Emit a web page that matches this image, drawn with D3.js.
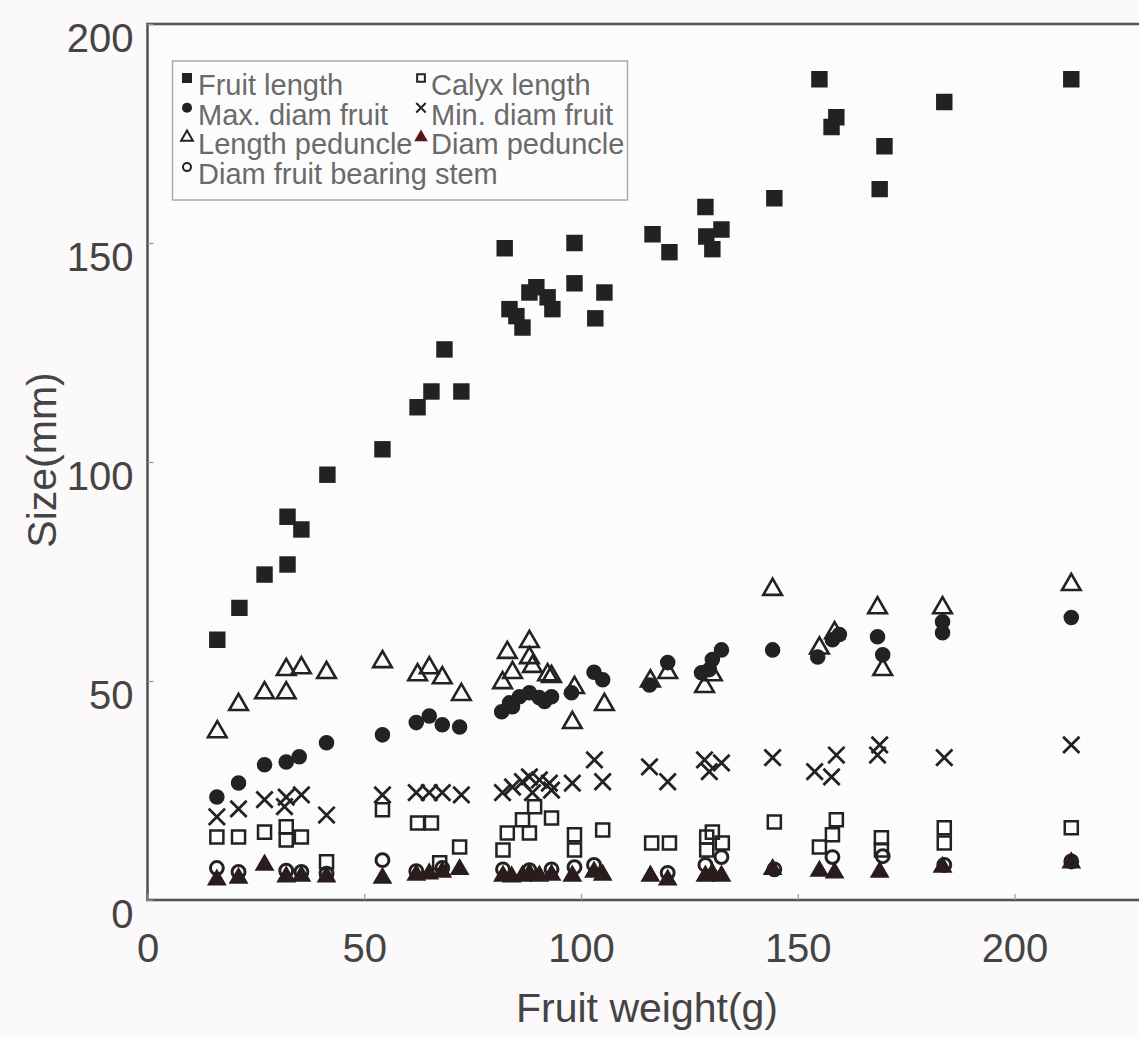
<!DOCTYPE html>
<html>
<head>
<meta charset="utf-8">
<script src="https://cdn.jsdelivr.net/npm/d3@7/dist/d3.min.js"></script>
<style>
  html, body { margin: 0; padding: 0; background: #fbf9fa; }
  svg { display: block; }
  text { font-family: "Liberation Sans", Arial, sans-serif; }
</style>
</head>
<body>
<svg id="chart" width="1139" height="1037"></svg>
<script>
// ---------- data (weight g, size mm) ----------
const xTicks = [0, 50, 100, 150, 200];
const yTicks = [0, 50, 100, 150, 200];
const xTitle = "Fruit weight(g)";
const yTitle = "Size(mm)";

const fruitLength = [[16.1,59.4],[21.2,66.7],[27.0,74.3],[32.3,76.6],[32.3,87.5],[35.5,84.6],[41.5,97.1],[54.2,102.9],[62.3,112.5],[65.5,116.1],[68.5,125.7],[72.4,116.1],[82.4,148.8],[83.5,134.9],[85.1,133.3],[86.5,130.7],[88.1,138.7],[89.7,139.9],[92.3,137.6],[93.4,134.9],[98.5,150],[98.5,140.8],[103.3,132.8],[105.4,138.7],[116.5,152],[120.4,147.9],[128.7,158.2],[128.9,151.5],[130.3,148.6],[132.4,153.1],[144.6,160.2],[155.0,187.4],[157.8,176.5],[158.9,178.7],[168.9,162.3],[170.0,172.1],[183.8,182.2],[213.1,187.4]];

const calyxLength = [[16,14.4],[21,14.4],[27,15.5],[32,16.7],[32,13.7],[35.5,14.4],[41.3,8.7],[54.2,20.6],[62.3,17.6],[65.5,17.6],[67.4,8.5],[72,12.1],[82,11.4],[83,15.3],[86.5,18.3],[88.1,15.3],[89.3,21.3],[93.2,18.7],[98.5,14.9],[98.5,11.4],[105,16],[116.3,13],[120.4,13],[129,14.4],[130.3,15.5],[132.6,13],[129,11.4],[144.6,17.8],[155,12.1],[158,14.9],[158.9,18.3],[169.3,14.2],[169.3,11.4],[183.8,16.5],[183.8,13],[213.1,16.5]];

const maxDiamFruit = [[16,23.5],[21,26.7],[27,30.9],[32,31.5],[35,32.7],[41.3,35.9],[54.2,37.7],[62,40.5],[65,42],[68,40],[72,39.5],[81.7,43],[84.2,44.1],[83.5,45],[85.8,46.4],[88.1,47.3],[90.4,46.2],[91.6,45.3],[93.2,46.4],[97.8,47.3],[103,52],[105,50.3],[115.8,49.1],[120,54.2],[127.8,51.9],[129.6,52.6],[130.3,54.9],[132.4,57.1],[144.2,57.1],[154.6,55.5],[158,59.4],[159.6,60.6],[168.4,60.1],[169.6,56],[183.4,63.5],[183.4,61],[213.1,64.5]];

const minDiamFruit = [[16,19],[21,20.8],[27,22.9],[31.6,21.3],[32,23.5],[35.5,24],[41.3,19.4],[54.2,24],[62,24.5],[65,24.5],[68,24.5],[72.4,24],[81.9,24.5],[84.2,25.8],[86.5,27],[88.1,28.1],[88.8,24.5],[90.4,27.4],[92.7,26.7],[93.2,25.1],[98,26.7],[103.1,32],[105,27],[115.8,30.4],[120,27],[128.5,32],[129.6,29.3],[132.4,31.3],[144.2,32.5],[153.9,29.3],[157.8,28.1],[158.9,33.1],[168.4,33.1],[168.9,35.4],[183.8,32.5],[213.1,35.4]];

const lengthPeduncle = [[16.1,38.4],[21,44.6],[27,47.3],[32,47.3],[32,52.6],[35.5,53],[41.3,51.9],[54.2,54.4],[62.3,51.4],[65,53],[68,50.7],[72.4,46.9],[81.9,49.6],[83,56.5],[84.2,51.9],[88.1,59],[88.1,55.3],[88.8,53.3],[92.3,51.4],[93.2,51],[98,40.5],[98.5,48.5],[105.4,44.6],[116,50],[120,51.9],[128.5,48.7],[130.3,51.4],[144.2,70.9],[155,57.5],[158.5,61],[168.4,66.7],[169.6,52.6],[183.4,66.7],[213.1,72]];

const diamPeduncle = [[16,4.6],[21,5],[27,8],[32,5.3],[35.5,5.5],[41.3,5.3],[54.2,5],[62,5.7],[65,6],[68,6.4],[72,7],[82,5.5],[84,5.3],[86.5,5.5],[88.1,6],[90.4,5.5],[93.2,5.7],[98,5.5],[103,6.4],[105,5.7],[116,5.5],[120,4.6],[128.7,5.5],[130.3,6],[132.4,5.5],[144.2,7],[155,6.6],[158.5,6.2],[168.9,6.4],[183.4,7.5],[213.1,8.5]];

const diamFruitBearingStem = [[16,7.3],[21,6.4],[32,6.7],[35.5,6.4],[41.3,6],[54.2,9.1],[62,6.6],[68,7.3],[82,7],[88.1,6.8],[93.2,7],[98.5,7.5],[103,8],[120,6.2],[128.7,8],[132.4,9.8],[144.6,7],[158,9.8],[169.6,10],[183.8,8],[213.1,8.8]];

const seriesNames = ["Fruit length","Calyx length","Max. diam fruit","Min. diam fruit","Length peduncle","Diam peduncle","Diam fruit bearing stem"];

// ---------- styling ----------
const ink = "#222";
const styles = {
  "Fruit length":            {type: d3.symbolSquare,   size: 270, fill: ink, stroke: "none", sw: 0, lsize: 100},
  "Calyx length":            {type: d3.symbolSquare,   size: 170, fill: "none", stroke: ink, sw: 2.5, lsize: 60},
  "Max. diam fruit":         {type: d3.symbolCircle,   size: 190, fill: ink, stroke: "none", sw: 0, lsize: 80},
  "Min. diam fruit":         {type: d3.symbolTimes,    size: 175, fill: "none", stroke: ink, sw: 2.8, lsize: 60},
  "Length peduncle":         {type: d3.symbolTriangle, size: 150, fill: "none", stroke: ink, sw: 2.6, lsize: 60},
  "Diam peduncle":           {type: d3.symbolTriangle, size: 170, fill: "#2a1c1c", stroke: "none", sw: 0, lsize: 80, lfill: "#5a1414"},
  "Diam fruit bearing stem": {type: d3.symbolCircle,   size: 130, fill: "none", stroke: ink, sw: 3, lsize: 50}
};
const dataBySeries = {
  "Fruit length": fruitLength,
  "Calyx length": calyxLength,
  "Max. diam fruit": maxDiamFruit,
  "Min. diam fruit": minDiamFruit,
  "Length peduncle": lengthPeduncle,
  "Diam peduncle": diamPeduncle,
  "Diam fruit bearing stem": diamFruitBearingStem
};

const svg = d3.select("#chart");
const W = 1139, H = 1037;
svg.append("rect").attr("width", W).attr("height", H).attr("fill", "#fbf9fa");

const plotLeft = 147.5, plotTop = 24, plotBottom = 900;
const x = d3.scaleLinear().domain([0, 250]).range([plotLeft, plotLeft + 250 * 4.335]);
const y = d3.scaleLinear().domain([0, 200]).range([plotBottom, plotTop]);

// frame
svg.append("rect")
  .attr("x", plotLeft).attr("y", plotTop)
  .attr("width", x(250) - plotLeft).attr("height", plotBottom - plotTop)
  .attr("fill", "#fdfcfd").attr("stroke", "#555").attr("stroke-width", 2.6);

// axes with inward ticks
const xAxis = d3.axisBottom(x).tickValues(xTicks).tickSizeInner(-6).tickSizeOuter(0).tickPadding(34);
const gx = svg.append("g").attr("transform", `translate(0,${plotBottom})`).call(xAxis);
gx.select(".domain").remove();
gx.selectAll(".tick line").attr("stroke", "#999").attr("stroke-width", 1.2);
gx.selectAll(".tick text").attr("font-size", 40).attr("fill", "#444")
  .attr("font-family", "Liberation Sans, Arial, sans-serif");

const yAxis = d3.axisLeft(y).tickValues(yTicks).tickSizeInner(-6).tickSizeOuter(0).tickPadding(14);
const gy = svg.append("g").attr("transform", `translate(${plotLeft},0)`).call(yAxis);
gy.select(".domain").remove();
gy.selectAll(".tick line").attr("stroke", "#999").attr("stroke-width", 1.2);
gy.selectAll(".tick text").attr("font-size", 40).attr("fill", "#444").attr("dy", "0.68em")
  .attr("font-family", "Liberation Sans, Arial, sans-serif");

// titles
svg.append("text").attr("x", 647).attr("y", 1022).attr("text-anchor", "middle")
  .attr("font-size", 41).attr("fill", "#444").text(xTitle);
svg.append("text").attr("transform", "translate(56,460) rotate(-90)").attr("text-anchor", "middle")
  .attr("font-size", 41).attr("fill", "#444").text(yTitle);

// points
const clipId = "plotclip";
svg.append("clipPath").attr("id", clipId).append("rect")
  .attr("x", plotLeft).attr("y", plotTop).attr("width", W - plotLeft).attr("height", plotBottom - plotTop);
const plot = svg.append("g").attr("clip-path", `url(#${clipId})`);

const drawOrder = ["Fruit length","Calyx length","Min. diam fruit","Length peduncle","Max. diam fruit","Diam fruit bearing stem","Diam peduncle"];
drawOrder.forEach(name => {
  const s = styles[name];
  const sym = d3.symbol().type(s.type).size(s.size);
  plot.append("g").selectAll("path").data(dataBySeries[name]).join("path")
    .attr("transform", d => `translate(${x(d[0])},${y(d[1])})`)
    .attr("d", sym)
    .attr("fill", s.fill)
    .attr("stroke", s.stroke)
    .attr("stroke-width", s.sw);
});

// legend
const lg = svg.append("g");
lg.append("rect").attr("x", 172.5).attr("y", 61).attr("width", 455).attr("height", 139)
  .attr("fill", "#fdfcfd").attr("stroke", "#aaa").attr("stroke-width", 1.5);
const legendPos = [
  {name: "Fruit length", col: 0, row: 0},
  {name: "Calyx length", col: 1, row: 0},
  {name: "Max. diam fruit", col: 0, row: 1},
  {name: "Min. diam fruit", col: 1, row: 1},
  {name: "Length peduncle", col: 0, row: 2},
  {name: "Diam peduncle", col: 1, row: 2},
  {name: "Diam fruit bearing stem", col: 0, row: 3}
];
const colMarkX = [187, 421];
const colTextX = [198, 431];
legendPos.forEach(p => {
  const s = styles[p.name];
  const base = 95 + p.row * 29.7;
  lg.append("path")
    .attr("transform", `translate(${colMarkX[p.col]},${base - 17})`)
    .attr("d", d3.symbol().type(s.type).size(s.lsize))
    .attr("fill", s.lfill || s.fill)
    .attr("stroke", s.stroke)
    .attr("stroke-width", s.sw ? 2 : 0);
  lg.append("text").attr("x", colTextX[p.col]).attr("y", base)
    .attr("font-size", 29).attr("fill", "#6a6a6a").text(p.name);
});
</script>
</body>
</html>
